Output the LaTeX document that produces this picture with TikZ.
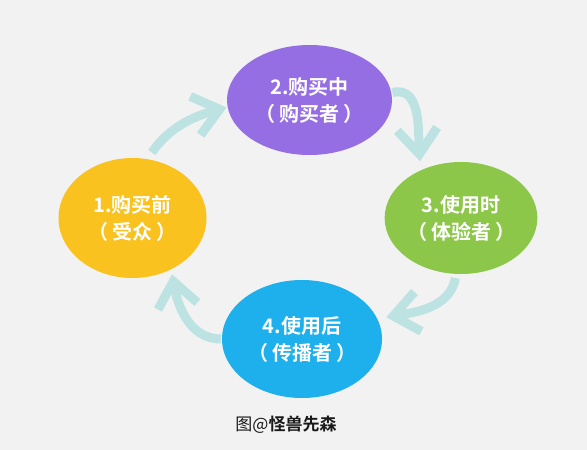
\documentclass[tikz,border=0pt]{standalone}
\usepackage{fontspec}
\newfontfamily\cjk{Noto Sans CJK SC}[BoldFont={Noto Sans CJK SC Bold}]
\usetikzlibrary{shapes.geometric,arrows.meta}
\definecolor{bgc}{HTML}{F2F2F2}
\definecolor{cpurple}{HTML}{966EE3}
\definecolor{cgreen}{HTML}{8CC74A}
\definecolor{cyellow}{HTML}{F9C21E}
\definecolor{cblue}{HTML}{1EB0EC}
\definecolor{carrow}{HTML}{BCE2E2}
\newcommand{\pl}{（\hspace{4pt}}
\newcommand{\pr}{\hspace{4pt}）}
\tikzset{
  stage/.style={ellipse, inner sep=0pt, text=white, align=center,
    font=\cjk\bfseries\fontsize{20}{27}\selectfont},
  arr/.style={draw=carrow, line width=9pt,
    -{Straight Barb[length=25pt,width=40pt]}},
}
\begin{document}
\begin{tikzpicture}[x=1pt,y=1pt]
\fill[bgc] (0,0) rectangle (587,-450);
\useasboundingbox (0,0) rectangle (587,-450);
\node[stage, fill=cyellow, minimum width=148pt, minimum height=120pt] (yellow) at (132.5,-218) {1.购买前\\\pl 受众\pr};
\node[stage, fill=cpurple, minimum width=165pt, minimum height=110pt] (purple) at (309.5,-100) {2.购买中\\\pl 购买者\pr};
\node[stage, fill=cgreen, minimum width=152pt, minimum height=112pt] (green) at (461,-218) {3.使用时\\\pl 体验者\pr};
\node[stage, fill=cblue, minimum width=160pt, minimum height=118pt] (blue) at (302,-339) {4.使用后\\\pl 传播者\pr};
\node[font=\cjk\fontsize{17}{20}\selectfont, text=black!90] (caption) at (286,-425) {图@\textbf{怪兽先森}};
\draw[arr, shorten <=8pt, shorten >=1pt] (yellow.76) to[out=55,in=195] (purple.185);
\draw[arr, shorten <=1pt, shorten >=9pt] (purple.5) to[out=15,in=95] (green.130);
\draw[arr, shorten <=4pt, shorten >=9pt] (green.-95) to[out=-100,in=10] (blue.15);
\draw[arr, shorten <=1pt, shorten >=5pt] (blue.180) to[out=180,in=-80] (yellow.-53);
\end{tikzpicture}
\end{document}
